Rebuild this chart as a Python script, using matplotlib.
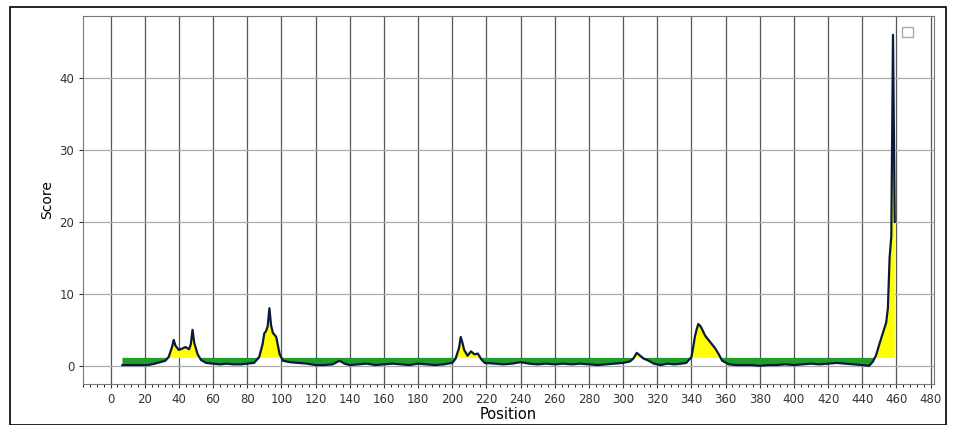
import matplotlib.pyplot as plt
import numpy as np
from matplotlib.patches import Rectangle, Patch
from matplotlib.ticker import MultipleLocator

# position / score
position = [7, 10, 14, 18, 22, 26, 29, 32, 34, 36, 37, 38, 40, 42, 44, 46, 47, 48, 49, 51, 53, 56,
            60, 64, 68, 72, 76, 80, 84, 87, 89, 90, 91, 92, 93, 94, 95, 97, 99, 101,
            105, 110, 115, 120, 125, 130, 134, 137, 140, 145, 150, 155, 160, 165, 170, 175, 180,
            185, 190, 195, 200, 202, 204, 205, 206, 207, 208, 209, 211, 213, 215, 217, 219,
            225, 230, 235, 240, 245, 250, 255, 260, 265, 270, 275, 280, 285, 290, 295, 300,
            304, 306, 308, 310, 312, 315, 318, 322, 326, 330, 334, 337, 340, 341, 342, 343,
            344, 345, 346, 348, 350, 352, 354, 356, 358, 362, 366, 370, 375, 380, 385, 390,
            395, 400, 405, 410, 415, 420, 425, 430, 435, 440, 444, 446, 448, 450, 452, 454,
            455, 456, 457, 458, 459]
score = [0.1, 0.1, 0.1, 0.1, 0.1, 0.3, 0.5, 0.7, 1.2, 2.6, 3.6, 2.8, 2.2, 2.4, 2.6, 2.3, 3.0, 5.0, 3.2, 1.6, 0.8, 0.4,
         0.3, 0.2, 0.3, 0.2, 0.2, 0.3, 0.4, 1.2, 3.0, 4.5, 4.8, 5.5, 8.0, 5.6, 4.6, 4.0, 1.6, 0.7,
         0.5, 0.4, 0.3, 0.1, 0.1, 0.2, 0.7, 0.3, 0.1, 0.2, 0.3, 0.1, 0.2, 0.3, 0.2, 0.1, 0.3,
         0.2, 0.1, 0.2, 0.4, 1.0, 2.5, 4.0, 3.2, 2.2, 1.8, 1.4, 2.0, 1.6, 1.7, 0.9, 0.4,
         0.3, 0.2, 0.3, 0.5, 0.3, 0.2, 0.3, 0.2, 0.3, 0.2, 0.3, 0.2, 0.1, 0.2, 0.3, 0.4,
         0.6, 1.0, 1.8, 1.4, 1.0, 0.7, 0.3, 0.1, 0.3, 0.2, 0.3, 0.4, 1.2, 2.5, 4.0, 5.0,
         5.8, 5.6, 5.2, 4.2, 3.6, 3.0, 2.4, 1.6, 0.7, 0.2, 0.1, 0.1, 0.1, 0.0, 0.1, 0.1,
         0.2, 0.1, 0.2, 0.3, 0.2, 0.3, 0.4, 0.3, 0.2, 0.1, 0.0, 0.5, 1.4, 3.0, 4.5, 6.0,
         8.0, 15.0, 18.0, 46.0, 20.0]
threshold = 1.1

xticks = list(range(0, 481, 20))
yticks = [0, 10, 20, 30, 40]

pos = np.array(position)
sc = np.array(score)

fig = plt.figure(figsize=(9.56, 4.25), dpi=100, facecolor='white')
ax = fig.add_axes([0.087, 0.097, 0.89, 0.865])

# filled areas above / below the threshold
ax.fill_between(pos, threshold, sc, where=sc >= threshold, interpolate=True,
                color='#ffff00', zorder=2, linewidth=0)
ax.fill_between(pos, threshold, sc, where=sc <= threshold, interpolate=True,
                color='#1f9e2c', zorder=2, linewidth=0)
ax.plot(pos, sc, color='#0b1a3a', linewidth=1.6, zorder=3)

ax.set_xlim(-16, 482)
ax.set_ylim(-2.5, 48.6)
ax.set_xticks(xticks)
ax.set_yticks(yticks)
ax.xaxis.set_minor_locator(MultipleLocator(4))
ax.tick_params(axis='both', labelsize=8.5, colors='#333333', length=3)
ax.tick_params(axis='x', which='minor', length=2)
ax.grid(axis='x', color='#555555', linewidth=0.9, zorder=0)
ax.grid(axis='y', color='#aaaaaa', linewidth=0.9, zorder=0)
ax.set_axisbelow(True)
for s in ax.spines.values():
    s.set_color('#777777')

ax.set_xlabel('Position', fontsize=10.5, labelpad=1)
ax.set_ylabel('Score', fontsize=10)

# empty legend box in the corner
ax.legend(handles=[Patch(facecolor='white', edgecolor='#aaaaaa')], labels=[''],
          loc='upper right', handlelength=0.8, handleheight=0.8, borderpad=0.2,
          frameon=False)

# outer screenshot frame
fig.patches.append(Rectangle((10 / 956, 0), 936 / 956, 418 / 425, transform=fig.transFigure,
                             fill=False, edgecolor='black', linewidth=1.2))

plt.savefig('out.png', dpi=100)
